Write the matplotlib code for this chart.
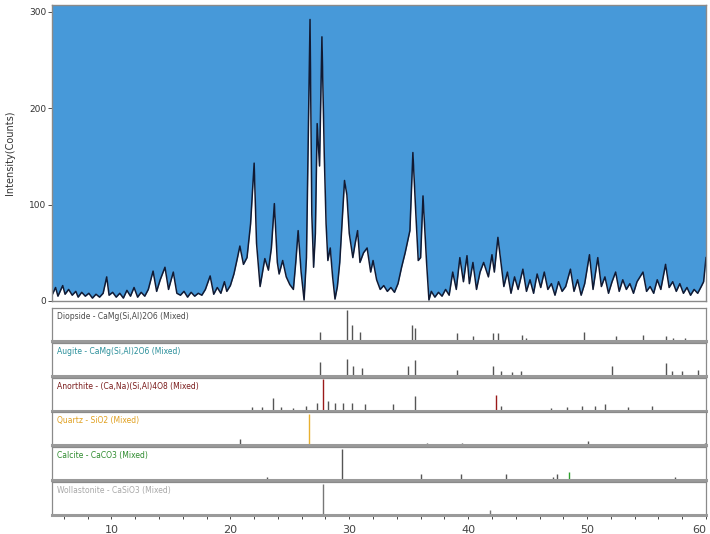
import matplotlib
matplotlib.use("Agg")
import matplotlib.pyplot as plt
from matplotlib.ticker import MultipleLocator
import numpy as np

two_theta = [5.0, 5.3, 5.5, 5.9, 6.1, 6.4, 6.7, 7.0, 7.2, 7.5, 7.8, 8.1, 8.4, 8.7, 9.0, 9.3,
             9.6, 9.8, 10.1, 10.4, 10.7, 11.0, 11.3, 11.6, 11.9, 12.2, 12.5, 12.8, 13.1, 13.5,
             13.8, 14.1, 14.5, 14.8, 15.2, 15.5, 15.8, 16.1, 16.4, 16.7, 17.0, 17.3, 17.6, 17.9,
             18.3, 18.6, 18.9, 19.2, 19.5, 19.7, 20.0, 20.3, 20.6, 20.8, 21.1, 21.4, 21.7, 22.0,
             22.2, 22.5, 22.9, 23.2, 23.45, 23.7, 23.95, 24.1, 24.4, 24.7, 25.0, 25.3, 25.5, 25.7,
             25.95, 26.2, 26.4, 26.7, 26.85, 27.0, 27.15, 27.3, 27.5, 27.7, 27.9, 28.05, 28.2, 28.4,
             28.6, 28.8, 29.0, 29.2, 29.6, 29.8, 30.0, 30.3, 30.5, 30.7, 30.9, 31.2, 31.5, 31.8,
             32.0, 32.3, 32.6, 32.9, 33.2, 33.5, 33.8, 34.1, 34.4, 34.7, 35.1, 35.35, 35.6, 35.8,
             36.0, 36.2, 36.5, 36.7, 36.9, 37.2, 37.5, 37.8, 38.1, 38.4, 38.7, 39.0, 39.3, 39.6,
             39.9, 40.1, 40.4, 40.7, 41.0, 41.3, 41.7, 42.0, 42.2, 42.5, 42.8, 43.0, 43.3, 43.6,
             43.9, 44.2, 44.6, 44.9, 45.2, 45.5, 45.8, 46.1, 46.4, 46.7, 47.0, 47.3, 47.6, 47.9,
             48.2, 48.6, 48.9, 49.2, 49.5, 49.8, 50.2, 50.5, 50.9, 51.2, 51.5, 51.8, 52.1, 52.4,
             52.7, 53.0, 53.3, 53.6, 53.9, 54.2, 54.7, 55.0, 55.3, 55.6, 55.9, 56.2, 56.6, 56.9,
             57.2, 57.5, 57.8, 58.1, 58.4, 58.7, 59.0, 59.3, 59.6, 59.8, 60.0]
counts = [6, 14, 5, 16, 7, 12, 6, 10, 4, 9, 5, 8, 3, 7, 4, 8,
          25, 6, 9, 4, 8, 3, 11, 5, 14, 4, 9, 5, 12, 31,
          10, 22, 35, 12, 30, 8, 6, 10, 4, 9, 5, 8, 6, 12,
          26, 7, 14, 8, 20, 10, 16, 28, 45, 57, 38, 45, 80, 143,
          60, 15, 44, 32, 55, 101, 40, 28, 42, 25, 17, 12, 40, 73,
          30, 1, 45, 292, 90, 35, 70, 184, 140, 274, 150, 80, 42, 55,
          25, 2, 15, 40, 125, 110, 70, 45, 60, 73, 40, 50, 55, 30,
          42, 22, 12, 16, 10, 14, 9, 18, 35, 50, 73, 154, 90, 42,
          45, 109, 40, 1, 10, 4, 9, 5, 12, 6, 30, 12, 45, 20,
          47, 18, 40, 12, 30, 40, 25, 48, 30, 66, 35, 15, 30, 8,
          25, 12, 33, 10, 22, 8, 28, 14, 30, 12, 18, 6, 20, 10,
          15, 33, 10, 22, 6, 18, 48, 12, 45, 15, 25, 8, 20, 30,
          10, 22, 12, 18, 8, 20, 30, 10, 15, 8, 22, 12, 38, 14,
          20, 10, 18, 8, 14, 6, 12, 8, 15, 20, 45]

# reference phases: name, label colour, stick positions, relative heights
phase_names = ["Diopside - CaMg(Si,Al)2O6 (Mixed)",
               "Augite - CaMg(Si,Al)2O6 (Mixed)",
               "Anorthite - (Ca,Na)(Si,Al)4O8 (Mixed)",
               "Quartz - SiO2 (Mixed)",
               "Calcite - CaCO3 (Mixed)",
               "Wollastonite - CaSiO3 (Mixed)"]
label_colors = ["#4a4a4a", "#2a8f9a", "#7a1c1c", "#e0a020", "#2e8b2e", "#a8a8a8"]

diopside_pos = [27.5, 29.8, 30.2, 30.9, 35.3, 35.5, 39.1, 40.4, 42.1, 42.5, 44.5, 44.9,
                49.7, 52.4, 54.7, 56.6, 57.2, 58.2]
diopside_h = [30, 100, 50, 30, 50, 40, 25, 15, 25, 25, 20, 10, 30, 15, 20, 15, 10, 10]
augite_pos = [27.5, 29.8, 30.3, 31.1, 34.9, 35.5, 39.1, 42.1, 42.8, 43.7, 44.4, 52.1,
              56.6, 57.1, 58.0, 59.3]
augite_h = [45, 55, 30, 25, 30, 50, 20, 30, 15, 12, 15, 30, 40, 15, 15, 20]
anorthite_pos = [21.8, 22.7, 23.6, 24.3, 25.3, 26.4, 27.3, 27.8, 28.2, 28.8, 29.5, 30.2,
                 31.3, 33.7, 35.5, 42.3, 42.8, 47.0, 48.3, 49.6, 50.7, 51.5, 53.4, 55.5]
anorthite_h = [10, 10, 40, 10, 8, 15, 25, 100, 30, 25, 25, 25, 20, 20, 45, 50, 15, 8, 12,
               15, 15, 20, 10, 15]
quartz_pos = [20.85, 26.64, 36.5, 39.5, 40.3, 42.4, 45.8, 50.1, 54.9, 55.3, 59.9]
quartz_h = [20, 100, 8, 8, 5, 6, 4, 14, 5, 3, 8]
calcite_pos = [23.1, 29.4, 36.0, 39.4, 43.2, 47.1, 47.5, 48.5, 57.4]
calcite_h = [10, 100, 20, 20, 20, 10, 20, 25, 10]
wollast_pos = [27.8, 41.8]
wollast_h = [100, 15]

stick_pos = [diopside_pos, augite_pos, anorthite_pos, quartz_pos, calcite_pos, wollast_pos]
stick_h = [diopside_h, augite_h, anorthite_h, quartz_h, calcite_h, wollast_h]

W, H = 710, 534
fig = plt.figure(figsize=(W / 100, H / 100), dpi=100)

def box(l, t, r, b):
    return [l / W, 1 - b / H, (r - l) / W, (b - t) / H]

blue = "#4799d9"
edge = "#8a8a8a"

ax = fig.add_axes(box(52, 5, 706, 301))
ax.set_facecolor(blue)
ax.fill_between(two_theta, 0, counts, color="white", lw=0)
ax.plot(two_theta, counts, color="#111a33", lw=1.1)
ax.set_xlim(5, 60)
ax.set_ylim(0, 307)
ax.set_yticks([0, 100, 200, 300])
ax.tick_params(axis="y", labelsize=6.5, length=3, width=0.6, colors="#333333", pad=1)
ax.set_xticks([])
ax.set_ylabel("Intensity(Counts)", fontsize=7, color="#333333", labelpad=10)
for s in ax.spines.values():
    s.set_color(edge)
    s.set_linewidth(1.0)

top = 308
ph = 33
gap = 1.8
for i in range(6):
    t = top + i * (ph + gap)
    a = fig.add_axes(box(52, t, 706, t + ph))
    pos = stick_pos[i]
    h = stick_h[i]
    cols = []
    for p, v in zip(pos, h):
        c = "#555555"
        if i == 2 and v >= 50:
            c = "#9a1a1a"
        if i == 3 and v >= 100:
            c = "#e8b030"
        if i == 4 and p == 48.5:
            c = "#2ea02e"
        if i == 5:
            c = "#777777"
        cols.append(c)
    a.vlines(pos, 0, h, colors=cols, lw=1.0)
    a.set_xlim(5, 60)
    a.set_ylim(0, 105)
    a.set_yticks([])
    a.text(0.008, 0.88, phase_names[i], transform=a.transAxes, fontsize=5.5,
           color=label_colors[i], va="top", ha="left")
    for s in a.spines.values():
        s.set_color(edge)
        s.set_linewidth(0.9)
    a.spines["bottom"].set_linewidth(2.2)
    a.spines["bottom"].set_color("#9a9a9a")
    if i < 5:
        a.set_xticks([])
    else:
        a.xaxis.set_minor_locator(MultipleLocator(2))
        a.set_xticks([10, 20, 30, 40, 50, 60])
        a.tick_params(axis="x", which="both", length=3, width=0.7, colors="#444444",
                      labelsize=8, pad=4)
        a.get_xticklabels()[-1].set_horizontalalignment("right")

fig.savefig("out.png", dpi=100)
